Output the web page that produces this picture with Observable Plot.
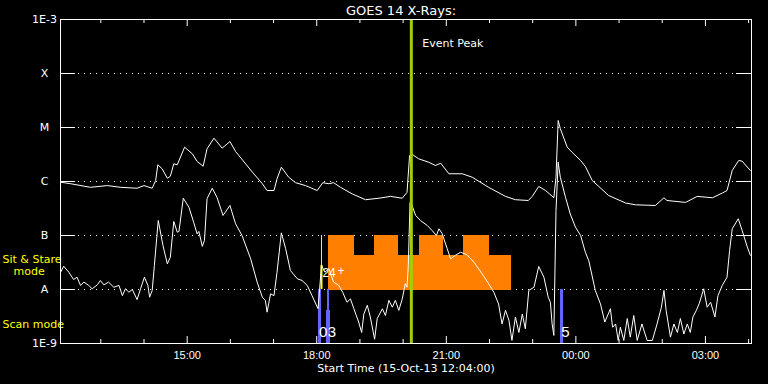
<!DOCTYPE html>
<html><head><meta charset="utf-8">
<script src="https://cdn.jsdelivr.net/npm/d3@7"></script>
<script src="https://cdn.jsdelivr.net/npm/@observablehq/plot@0.6"></script>
<style>html,body{margin:0;padding:0;background:#000;overflow:hidden;}</style>
</head><body><div id="chart"></div>
<script>
// Hours since 15-Oct-2013 00:00 UT
const startHour = 12 + 4/60;
const endHour = 28 + 4/60;

// GOES long channel (1-8 A)
const longTime = [12.07,12.30,12.76,13.15,13.46,13.84,14.00,14.19,14.27,14.32,14.42,14.54,14.61,14.69,14.77,14.94,15.12,15.23,15.37,15.46,15.62,15.81,15.99,16.12,16.51,16.74,16.85,17.01,17.08,17.18,17.35,17.51,17.74,18.01,18.14,18.28,18.39,18.55,18.82,19.13,19.44,19.71,19.98,20.09,20.15,20.19,20.36,20.59,20.75,20.87,21.06,21.37,21.60,21.98,22.37,22.60,22.90,22.99,23.14,23.30,23.49,23.54,23.59,23.64,23.80,23.91,24.11,24.22,24.38,24.76,25.15,25.38,25.84,26.04,26.11,26.54,26.81,27.16,27.39,27.50,27.62,27.77,27.85,28.04];
const longFlux = [9.7e-7,9.1e-7,7.8e-7,8.4e-7,7.8e-7,7.5e-7,8.4e-7,7.5e-7,1.04e-6,2.04e-6,1.72e-6,1.15e-6,1.25e-6,2.13e-6,2.04e-6,4.32e-6,3.26e-6,2.35e-6,1.92e-6,4.04e-6,6.34e-6,4.14e-6,5.5e-6,3.6e-6,1.49e-6,9.1e-7,6.8e-7,6.8e-7,1.12e-6,1.84e-6,1.2e-6,9.5e-7,8.4e-7,6.8e-7,9.5e-7,9.1e-7,9.5e-7,7.8e-7,5.9e-7,4.6e-7,4.9e-7,5.3e-7,4.9e-7,6.3e-7,3.03e-6,3.26e-6,2.63e-6,2.28e-6,1.98e-6,2.18e-6,1.39e-6,1.39e-6,1.2e-6,7.8e-7,5.3e-7,4.6e-7,4.45e-7,5.3e-7,8.1e-7,6.8e-7,5.0e-7,1.2e-6,1.35e-5,9.5e-6,4.32e-6,3.49e-6,2.45e-6,1.9e-6,1.04e-6,5.5e-7,4.0e-7,3.7e-7,3.6e-7,5.0e-7,4.45e-7,4.1e-7,5.3e-7,5.0e-7,6.1e-7,6.8e-7,1.6e-6,2.45e-6,2.38e-6,1.6e-6];

// GOES short channel (0.5-4 A)
const shortTime = [12.07,12.14,12.26,12.37,12.45,12.53,12.61,12.72,12.80,12.92,12.99,13.07,13.18,13.30,13.42,13.50,13.57,13.65,13.73,13.84,13.92,14.01,14.09,14.13,14.19,14.24,14.33,14.44,14.54,14.61,14.69,14.77,14.81,14.91,15.04,15.15,15.23,15.27,15.35,15.40,15.46,15.58,15.69,15.83,15.99,16.12,16.27,16.47,16.62,16.74,16.81,16.85,16.93,17.01,17.08,17.18,17.28,17.39,17.55,17.66,17.78,17.89,18.03,18.11,18.19,18.28,18.39,18.51,18.60,18.70,18.78,18.86,18.97,19.04,19.09,19.17,19.24,19.34,19.40,19.52,19.59,19.67,19.75,19.82,19.90,19.98,20.05,20.09,20.12,20.16,20.19,20.29,20.40,20.56,20.67,20.77,20.83,20.90,21.02,21.10,21.21,21.33,21.48,21.64,21.83,21.98,22.10,22.21,22.29,22.37,22.45,22.52,22.60,22.68,22.76,22.83,22.91,23.03,23.14,23.26,23.36,23.41,23.45,23.49,23.54,23.59,23.64,23.76,23.87,23.99,24.11,24.22,24.30,24.45,24.57,24.67,24.72,24.80,24.85,24.92,24.98,25.03,25.11,25.19,25.26,25.34,25.42,25.53,25.65,25.77,25.88,25.98,26.04,26.09,26.19,26.27,26.35,26.42,26.50,26.58,26.65,26.71,26.79,26.86,26.96,27.04,27.12,27.22,27.29,27.39,27.50,27.56,27.62,27.76,27.85,27.97,28.04];
const shortFlux = [2.09e-8,2.70e-8,2.09e-8,1.53e-8,1.69e-8,1.19e-8,1.37e-8,1.19e-8,1.03e-8,1.22e-8,1.47e-8,1.22e-8,1.37e-8,1.10e-8,1.19e-8,7.7e-9,1.03e-8,8.9e-9,1.0e-8,6.5e-9,1.03e-8,1.69e-8,1.19e-8,7.2e-9,9.6e-9,2.78e-8,1.90e-7,6.5e-8,2.99e-8,3.96e-8,1.82e-7,1.15e-7,1.19e-7,4.9e-7,3.34e-7,1.76e-7,1.07e-7,1.19e-7,6.3e-8,8.1e-8,4.8e-7,7.5e-7,5.1e-7,2.35e-7,3.6e-7,1.65e-7,1.0e-7,3.7e-8,1.37e-8,7.2e-9,6.3e-9,3.8e-9,8.3e-9,7.7e-9,2.09e-8,1.12e-7,5.7e-8,2.25e-8,1.58e-8,1.47e-8,1.19e-8,7.7e-9,4.4e-9,2.78e-8,2.09e-8,2.42e-8,1.37e-8,1.19e-8,8.9e-9,5.8e-9,6.7e-9,4.4e-9,2.5e-9,1.6e-9,3.5e-9,5.1e-9,3.1e-9,1.2e-9,2.9e-9,4.4e-9,3.3e-9,6.3e-9,4.7e-9,6.3e-9,4.1e-9,6.7e-9,1.28e-8,1.10e-8,2.78e-8,4.1e-7,3.9e-7,2.35e-7,1.90e-7,1.53e-7,1.24e-7,1.0e-7,1.33e-7,1.10e-7,5.7e-8,3.7e-8,4.3e-8,4.9e-8,4.4e-8,3.2e-8,1.95e-8,1.28e-8,8.9e-9,5.4e-9,2.3e-9,4.1e-9,2.7e-9,1.14e-9,3.1e-9,1.6e-9,3.5e-9,1.87e-9,9.6e-9,1.10e-8,2.67e-8,1.69e-8,7.2e-9,5.8e-9,2.3e-9,1.41e-9,2.9e-7,2.28e-6,1.2e-6,5.1e-7,2.5e-7,1.43e-7,1.0e-7,4.9e-8,3.4e-8,9.6e-9,5.4e-9,2.5e-9,3.1e-9,4.4e-9,2.0e-9,2.3e-9,1.14e-9,2.0e-9,1.14e-9,2.9e-9,1.31e-9,3.3e-9,1.14e-9,2.3e-9,1.14e-9,1.14e-9,2.3e-9,4.7e-9,9.6e-9,4.1e-9,1.31e-9,2.3e-9,1.6e-9,2.9e-9,1.5e-9,2.3e-9,1.6e-9,3.1e-9,4.1e-9,5.6e-9,1.03e-8,4.7e-9,5.8e-9,3.1e-9,7.7e-9,1.19e-8,1.69e-8,5.3e-8,1.33e-7,2.04e-7,1.24e-7,6.1e-8,4.3e-8];

// Axis levels
const levelValues = [1e-9,1e-8,1e-7,1e-6,1e-5,1e-4,1e-3];
const levelLabels = ["1E-9","A","B","C","M","X","1E-3"];
const gridValues = [1e-8,1e-7,1e-6,1e-5,1e-4];
const majorTickHours = [15,18,21,24,27];
const majorTickLabels = ["15:00","18:00","21:00","00:00","03:00"];
const minorTickHours = [13,14,16,17,19,20,22,23,25,26,28];

// Sit & stare observation blocks
const stareStart = [18.29,18.86,19.34,19.89,20.38,20.93,21.42,21.98];
const stareEnd   = [18.86,19.34,19.89,20.38,20.93,21.42,21.98,22.49];
const stareLow   = [1e-8,1e-8,1e-8,1e-8,1e-8,1e-8,1e-8,1e-8];
const stareHigh  = [1e-7,4.1e-8,1e-7,4.1e-8,1e-7,4.1e-8,1e-7,4.1e-8];

// Scan mode bars
const scanStart = [18.03,18.23,18.25,23.64];
const scanEnd   = [18.11,18.32,18.29,23.71];
const scanLow   = [1e-9,1e-9,4.1e-9,1e-9];
const scanHigh  = [1e-8,4.1e-9,1e-8,1e-8];

// Yellow sit & stare marker
const markerHour = 18.11;
const markerLow = 1e-8, markerMid = 2.8e-8, markerHigh = 1e-7;

// Event peak
const eventPeakHour = 20.19;
const eventLabelFlux = 3.6e-4;

// Observation number labels
const scanNumHour = [18.03,18.23,23.64];
const scanNumText = ["0","3","5"];
const scanNumFlux = [1.6e-9,1.6e-9,1.6e-9];
const stareNumHour = [18.11,18.26];
const stareNumText = ["2","4"];
const stareNumFlux = [2.0e-8,2.0e-8];
const crossHour = 18.56, crossFlux = 2.2e-8;

const titleText = "GOES 14 X-Rays:";
const captionText = "Start Time (15-Oct-13 12:04:00)";
const sitStareLabel = "Sit & Stare", sitStareFlux = 3.6e-8;
const modeLabel = "mode", modeFlux = 2.15e-8;
const scanLabel = "Scan mode", scanFlux = 2.25e-9;

const W = 768, H = 384, ML = 60, MR = 17, MT = 19, MB = 41;
const FW = W - ML - MR, FH = H - MT - MB;
const hd = h => new Date(Date.UTC(2013, 9, 15) + Math.round(h * 3600e3));

const longData = longTime.map((h, i) => ({date: hd(h), flux: longFlux[i]}));
const shortData = shortTime.map((h, i) => ({date: hd(h), flux: shortFlux[i]}));
const stare = stareStart.map((s, i) => ({x1: hd(s), x2: hd(stareEnd[i]), y1: stareLow[i], y2: stareHigh[i]}));
const scan = scanStart.map((s, i) => ({x1: hd(s), x2: hd(scanEnd[i]), y1: scanLow[i], y2: scanHigh[i]}));
const levels = levelValues.map((v, i) => ({v, label: levelLabels[i]}));
const majors = majorTickHours.map((h, i) => ({date: hd(h), label: majorTickLabels[i]}));
const minors = minorTickHours.map(hd);
const scanNums = scanNumHour.map((h, i) => ({date: hd(h), text: scanNumText[i], flux: scanNumFlux[i]}));
const stareNums = stareNumHour.map((h, i) => ({date: hd(h), text: stareNumText[i], flux: stareNumFlux[i]}));

const white = "#ffffff", yellow = "#ffff00", orange = "#ff8000";
const chart = Plot.plot({
  width: W, height: H,
  marginLeft: ML, marginRight: MR, marginTop: MT, marginBottom: MB,
  style: {background: "#000", color: white, fontFamily: "DejaVu Sans", fontSize: "11px"},
  x: {type: "utc", domain: [hd(startHour), hd(endHour)], axis: null},
  y: {type: "log", domain: [1e-9, 1e-3], axis: null},
  marks: [
    Plot.ruleY(gridValues, {stroke: white, strokeDasharray: "1,5"}),
    Plot.ruleY(gridValues, {stroke: white, insetRight: FW - 15}),
    Plot.ruleY(gridValues, {stroke: white, insetLeft: FW - 15}),
    Plot.ruleX(majors, {x: "date", stroke: white, insetBottom: FH - 7}),
    Plot.ruleX(majors, {x: "date", stroke: white, insetTop: FH - 7}),
    Plot.ruleX(minors, {stroke: white, insetBottom: FH - 4}),
    Plot.ruleX(minors, {stroke: white, insetTop: FH - 4}),
    Plot.rect(stare, {x1: "x1", x2: "x2", y1: "y1", y2: "y2", fill: orange, stroke: orange, strokeWidth: 1, shapeRendering: "crispEdges"}),
    Plot.rect(scan, {x1: "x1", x2: "x2", y1: "y1", y2: "y2", fill: "#6464ff", shapeRendering: "crispEdges"}),
    Plot.ruleX([hd(markerHour)], {y1: markerLow, y2: markerHigh, stroke: yellow, strokeWidth: 1}),
    Plot.ruleX([hd(markerHour)], {y1: markerLow, y2: markerMid, stroke: yellow, strokeWidth: 2}),
    Plot.line(longData, {x: "date", y: "flux", stroke: white, strokeWidth: 1}),
    Plot.line(shortData, {x: "date", y: "flux", stroke: white, strokeWidth: 1}),
    Plot.ruleX([hd(eventPeakHour)], {stroke: "#a0d000", strokeWidth: 3}),
    Plot.text(["Event Peak"], {x: hd(eventPeakHour), y: eventLabelFlux, dx: 11, textAnchor: "start", lineAnchor: "middle", fill: white, fontSize: 11}),
    Plot.text(scanNums, {x: "date", y: "flux", text: "text", dx: 1, textAnchor: "start", lineAnchor: "middle", fill: white, fontSize: 15, fontFamily: "Liberation Sans"}),
    Plot.text(stareNums, {x: "date", y: "flux", text: "text", dx: 1, textAnchor: "start", lineAnchor: "middle", fill: white, fontSize: 12, fontFamily: "Liberation Sans"}),
    Plot.text(["+"], {x: hd(crossHour), y: crossFlux, lineAnchor: "middle", fill: white, fontSize: 12, fontFamily: "Liberation Sans"}),
    Plot.text(levels, {y: "v", text: "label", frameAnchor: "left", dx: -16, textAnchor: "middle", lineAnchor: "middle", fill: white, fontSize: 11}),
    Plot.text(majors, {x: "date", text: "label", frameAnchor: "bottom", dy: 12, lineAnchor: "middle", fill: white, fontSize: 11, fontFamily: "Liberation Sans"}),
    Plot.text([captionText], {frameAnchor: "bottom", dy: 25, lineAnchor: "middle", fill: white, fontSize: 11}),
    Plot.text([titleText], {frameAnchor: "top", dy: -9, dx: -5, lineAnchor: "middle", fill: white, fontSize: 13}),
    Plot.text([sitStareLabel], {y: sitStareFlux, frameAnchor: "left", dx: -58, textAnchor: "start", lineAnchor: "middle", fill: yellow, fontSize: 11}),
    Plot.text([modeLabel], {y: modeFlux, frameAnchor: "left", dx: -47, textAnchor: "start", lineAnchor: "middle", fill: yellow, fontSize: 11}),
    Plot.text([scanLabel], {y: scanFlux, frameAnchor: "left", dx: -58, textAnchor: "start", lineAnchor: "middle", fill: yellow, fontSize: 11}),
    Plot.frame({stroke: white})
  ]
});
document.getElementById("chart").appendChild(chart);
</script>
</body></html>
